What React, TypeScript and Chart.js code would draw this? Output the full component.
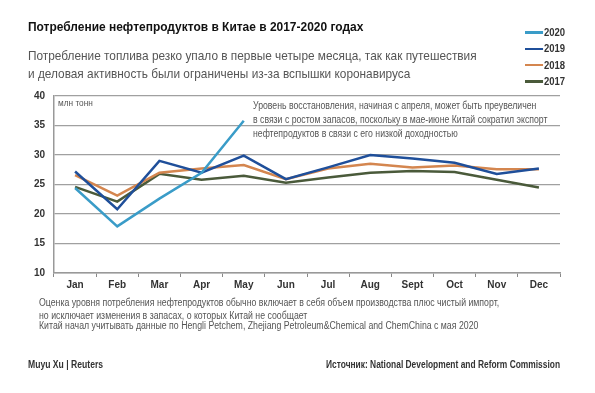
import React, { useEffect, useRef } from "react";
import { Chart, registerables } from "chart.js";
Chart.register(...registerables);

const months = ["Jan", "Feb", "Mar", "Apr", "May", "Jun", "Jul", "Aug", "Sept", "Oct", "Nov", "Dec"];
const y2020 = [24.4, 17.9, 22.6, 27.0, 35.8, null, null, null, null, null, null, null];
const y2019 = [27.2, 20.8, 29.0, 27.0, 29.9, 25.9, 27.9, 30.0, 29.4, 28.7, 26.8, 27.7];
const y2018 = [26.6, 23.1, 27.0, 27.7, 28.3, 25.9, 27.7, 28.5, 27.9, 28.2, 27.6, 27.6];
const y2017 = [24.6, 22.1, 26.8, 25.8, 26.5, 25.3, 26.2, 27.0, 27.3, 27.1, 25.8, 24.5];
const seriesNames = ["2020", "2019", "2018", "2017"];
const colors = ["#3a9cc8", "#1f4f9a", "#d4864f", "#4a5a3a"];
const yTicks = [10, 15, 20, 25, 30, 35, 40];

const FONT = "'Liberation Sans', Arial, sans-serif";

export default function App() {
  const ref = useRef<HTMLCanvasElement>(null);
  useEffect(() => {
    const values = [y2020, y2019, y2018, y2017];
    const chart = new Chart(ref.current!, {
      type: "line",
      data: {
        labels: months,
        datasets: seriesNames.map((n, i) => ({
          label: n,
          data: values[i],
          borderColor: colors[i],
          backgroundColor: colors[i],
          borderWidth: 2.5,
          pointRadius: 0,
          tension: 0,
          spanGaps: false,
        })),
      },
      options: {
        animation: false,
        responsive: false,
        layout: { padding: { left: 24, right: 35, top: 96, bottom: 95 } },
        plugins: { legend: { display: false }, tooltip: { enabled: false } },
        scales: {
          x: {
            offset: true,
            afterFit: (s: any) => { s.height = 25; },
            grid: { display: true, drawOnChartArea: false, drawTicks: true, tickLength: 4, color: "#888", offset: true },
            border: { display: true, color: "#999", width: 1.5 },
            ticks: { color: "#333", font: { family: FONT, size: 10, weight: "bold" }, padding: 2 },
          },
          y: {
            min: 10,
            max: 40,
            afterFit: (s: any) => { s.width = 30; },
            afterBuildTicks: (s: any) => { s.ticks = yTicks.map((v) => ({ value: v })); },
            grid: { color: "#a0a0a0", lineWidth: 1.2, drawTicks: false },
            border: { display: true, color: "#999", width: 1.5 },
            ticks: { color: "#333", font: { family: FONT, size: 10, weight: "bold" }, padding: 9 },
          },
        },
      },
    });
    return () => chart.destroy();
  }, []);

  const abs = (x: number, y: number, sx: number, extra: React.CSSProperties = {}): React.CSSProperties => ({
    position: "absolute", left: x, top: y, whiteSpace: "nowrap", fontFamily: FONT,
    transform: `scaleX(${sx})`, transformOrigin: "left top", ...extra,
  });

  return (
    <div style={{ position: "fixed", left: 0, top: 0, width: 595, height: 393, background: "#fff", overflow: "hidden" }}>
      <canvas ref={ref} width={595} height={393} style={{ position: "absolute", left: 0, top: 0 }} />
      <div style={abs(28, 19, 0.92, { fontSize: 13, fontWeight: "bold", color: "#111" })}>
        Потребление нефтепродуктов в Китае в 2017-2020 годах
      </div>
      <div style={abs(28, 47, 0.877, { fontSize: 13.5, color: "#555", lineHeight: "18px" })}>
        Потребление топлива резко упало в первые четыре месяца, так как путешествия<br />
        и деловая активность были ограничены из-за вспышки коронавируса
      </div>
      {seriesNames.map((n, i) => (
        <div key={n} style={abs(525, 27 + i * 16.3, 0.95, { fontSize: 10, fontWeight: "bold", color: "#333", display: "flex", alignItems: "center" })}>
          <span style={{ display: "inline-block", width: 19, height: 2.5, background: colors[i], marginRight: 1 }} />
          {n}
        </div>
      ))}
      <div style={abs(58, 98, 0.92, { fontSize: 9, color: "#555" })}>млн тонн</div>
      <div style={abs(253, 99, 0.87, { fontSize: 10, color: "#555", lineHeight: "14px" })}>
        Уровень восстановления, начиная с апреля, может быть преувеличен<br />
        в связи с ростом запасов, поскольку в мае-июне Китай сократил экспорт<br />
        нефтепродуктов в связи с его низкой доходностью
      </div>
      <div style={abs(39, 296, 0.875, { fontSize: 10, color: "#555", lineHeight: "13px" })}>
        Оценка уровня потребления нефтепродуктов обычно включает в себя объем производства плюс чистый импорт,<br />
        но исключает изменения в запасах, о которых Китай не сообщает
      </div>
      <div style={abs(39, 320, 0.875, { fontSize: 10, color: "#555" })}>
        Китай начал учитывать данные по Hengli Petchem, Zhejiang Petroleum&amp;Chemical and ChemChina с мая 2020
      </div>
      <div style={abs(28, 359, 0.86, { fontSize: 10, fontWeight: "bold", color: "#333" })}>Muyu Xu | Reuters</div>
      <div style={abs(326, 359, 0.84, { fontSize: 10, fontWeight: "bold", color: "#333" })}>
        Источник: National Development and Reform Commission
      </div>
    </div>
  );
}
